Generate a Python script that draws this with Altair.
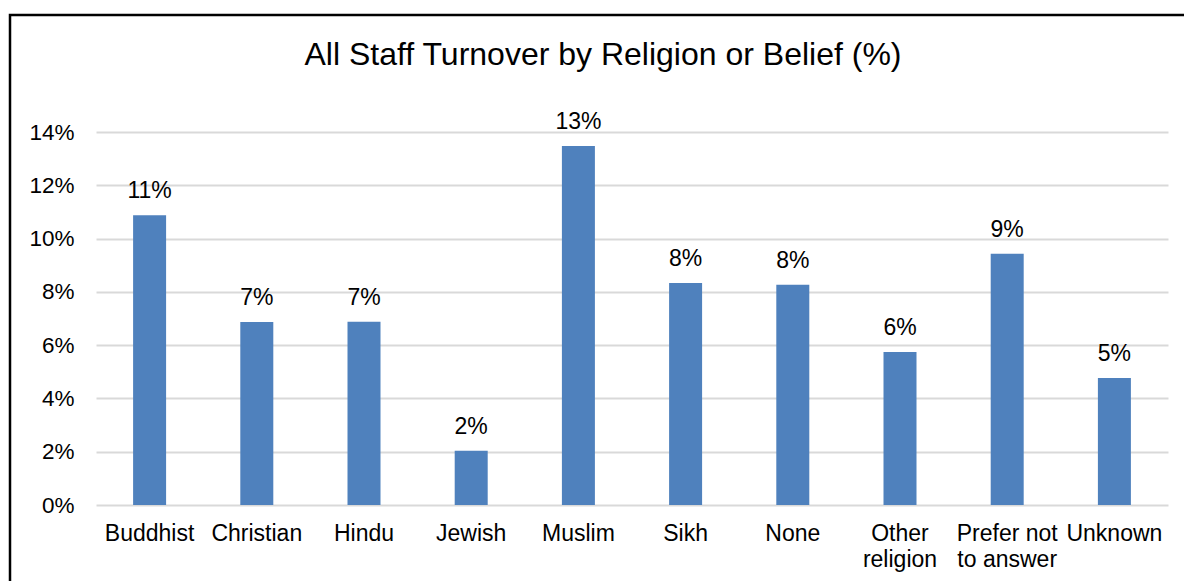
import altair as alt
import pandas as pd

TITLE = "All Staff Turnover by Religion or Belief (%)"
categories = ["Buddhist", "Christian", "Hindu", "Jewish", "Muslim", "Sikh",
              "None", "Other religion", "Prefer not to answer", "Unknown"]
values = [10.88, 6.87, 6.88, 2.04, 13.47, 8.33, 8.27, 5.74, 9.43, 4.77]
y_ticks = [0, 2, 4, 6, 8, 10, 12, 14]

df = pd.DataFrame({"cat": categories, "val": values})
FONT = "Liberation Sans"

label_expr = ("datum.value == 'Other religion' ? ['Other', 'religion'] : "
              "datum.value == 'Prefer not to answer' ? ['Prefer not', 'to answer'] : datum.label")

x = alt.X("cat:N", sort=categories, title=None,
          scale=alt.Scale(paddingInner=0, paddingOuter=0),
          axis=alt.Axis(labelAngle=0, ticks=False, domain=False, labelFont=FONT,
                        labelFontSize=23, labelColor="black", labelPadding=17,
                        labelLimit=0, labelOverlap=False, labelExpr=label_expr,
                        labelLineHeight=26, labelBaseline="top"))
y = alt.Y("val:Q", title=None,
          scale=alt.Scale(domain=[0, 14], nice=False),
          axis=alt.Axis(values=y_ticks, labelExpr="datum.value + '%'", ticks=False,
                        domain=False, gridColor="#D9D9D9", gridWidth=2,
                        labelFont=FONT, labelFontSize=22.5, labelColor="black",
                        labelPadding=22))

bars = alt.Chart(df).mark_bar(size=33, color="#4F81BD").encode(x=x, y=y)

labels = alt.Chart(df).transform_calculate(
    lab="round(datum.val) + '%'"
).mark_text(font=FONT, fontSize=23, color="black", baseline="alphabetic", dy=-17).encode(
    x=alt.X("cat:N", sort=categories), y="val:Q", text="lab:N")

one = alt.Data(values=[{"a": 1}])

title = alt.Chart(one).mark_text(text=TITLE, font=FONT, fontSize=32, color="black",
                                 align="center", baseline="alphabetic").encode(
    x=alt.value(603 - 96), y=alt.value(65 - 132))

border = alt.Chart(one).mark_rect(fill=None, filled=False, stroke="black", strokeWidth=2.5).encode(
    x=alt.value(10 - 96), x2=alt.value(1200 - 96), y=alt.value(15 - 132), y2=alt.value(620 - 132))

chart = alt.layer(bars, labels, title, border).properties(
    width=1072, height=373,
    autosize=alt.AutoSizeParams(type="none"),
    padding={"left": 96, "top": 132, "right": 16, "bottom": 76},
    background="white",
).configure_view(stroke=None)

chart.save("out.html", embed_options={"renderer": "svg", "actions": False})
